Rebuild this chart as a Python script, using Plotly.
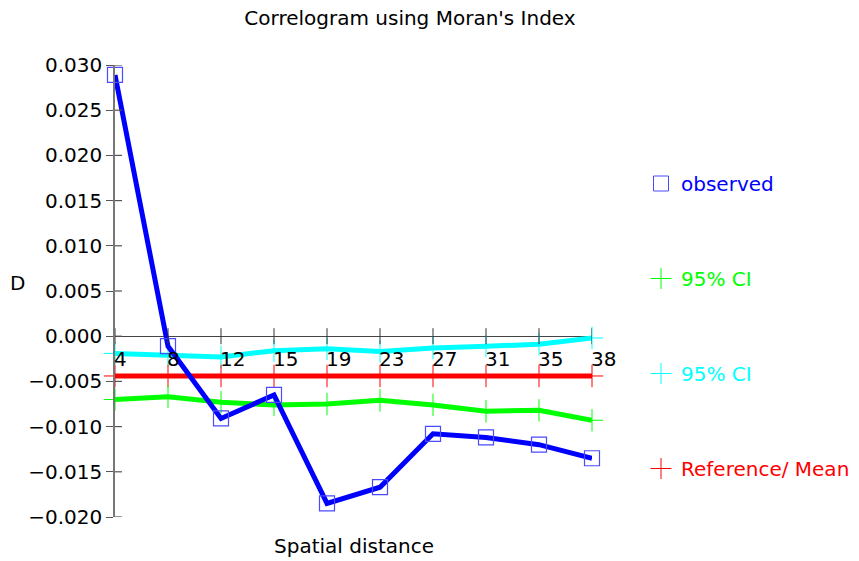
import plotly.graph_objects as go

distances = ["4", "8", "12", "15", "19", "23", "27", "31", "35", "38"]
observed = [0.0289, -0.0011, -0.0091, -0.0065, -0.0185, -0.0167, -0.0108, -0.0112, -0.0120, -0.0135]
ci_upper = [-0.0019, -0.0021, -0.0023, -0.0016, -0.0014, -0.0017, -0.0013, -0.0011, -0.0009, -0.0002]
ci_lower = [-0.0070, -0.0067, -0.0073, -0.0076, -0.0075, -0.0071, -0.0076, -0.0083, -0.0082, -0.0093]
ref_mean = [-0.0044] * len(distances)
y_ticks = [0.030, 0.025, 0.020, 0.015, 0.010, 0.005, 0.000, -0.005, -0.010, -0.015, -0.020]

FONT = "DejaVu Sans"
BLUE, GREEN, CYAN, RED = "#0000ff", "#00ff00", "#00ffff", "#ff0000"
W, H = 859, 561
L, R, T, B = 115, 267, 65, 44
PW, PH = W - L - R, H - T - B

fig = go.Figure()

def plus_trace(y, color):
    return go.Scatter(
        x=distances, y=y, mode="lines+markers", showlegend=False, cliponaxis=False,
        line=dict(color=color, width=5),
        marker=dict(symbol="cross-thin", size=16, color=color,
                    line=dict(color=color, width=1)),
    )

fig.add_trace(plus_trace(ci_upper, CYAN))
fig.add_trace(plus_trace(ref_mean, RED))
fig.add_trace(plus_trace(ci_lower, GREEN))
fig.add_trace(go.Scatter(
    x=distances, y=observed, mode="lines+markers", showlegend=False, cliponaxis=False,
    line=dict(color=BLUE, width=5),
    marker=dict(symbol="square-open", size=15, color="#4a4aff", line=dict(width=1.2)),
))

# legend-only entries
legend_items = [("observed", "square-open", BLUE, "#4a4aff"),
                ("95% CI", "cross-thin", GREEN, GREEN),
                ("95% CI", "cross-thin", CYAN, CYAN),
                ("Reference/ Mean", "cross-thin", RED, RED)]
for i, (name, sym, tcol, mcol) in enumerate(legend_items):
    fig.add_trace(go.Scatter(
        x=[None], y=[None], mode="markers",
        name=f"<span style='color:{tcol}'>{name}</span>", legendgroup=f"g{i}",
        marker=dict(symbol=sym, size=15, color=mcol, line=dict(color=mcol, width=1)),
    ))

shapes = []
for v in y_ticks:
    shapes.append(dict(type="line", xref="x", yref="y", xsizemode="pixel", xanchor=0,
                       x0=0, x1=7, y0=v, y1=v, line=dict(color="#555", width=1.2)))
for i, d in enumerate(distances):
    shapes.append(dict(type="line", xref="x", yref="y", ysizemode="pixel", yanchor=0,
                       x0=i, x1=i, y0=-8, y1=8, line=dict(color="#333", width=1)))

annotations = []
for i, d in enumerate(distances):
    annotations.append(dict(x=i, y=0, xref="x", yref="y", text=d, showarrow=False,
                            xanchor="left", yanchor="top", xshift=-3, yshift=-9,
                            font=dict(family=FONT, size=20, color="black")))
annotations.append(dict(x=(17 - L) / PW, y=(H - B - 283) / PH, xref="paper", yref="paper",
                        text="D", showarrow=False, xanchor="center", yanchor="middle",
                        font=dict(family=FONT, size=20, color="black")))
annotations.append(dict(x=(354 - L) / PW, y=(H - B - 546) / PH, xref="paper", yref="paper",
                        text="Spatial distance", showarrow=False, xanchor="center",
                        yanchor="middle", font=dict(family=FONT, size=20, color="black")))

fig.update_layout(
    shapes=shapes, annotations=annotations,
    width=W, height=H,
    margin=dict(l=L, r=R, t=T, b=B, autoexpand=False),
    paper_bgcolor="white", plot_bgcolor="white",
    font=dict(family=FONT, size=20, color="black"),
    title=dict(text="Correlogram using Moran's Index", x=410 / W, xanchor="center",
               y=1 - 18 / H, yanchor="middle", font=dict(family=FONT, size=20, color="black")),
    xaxis=dict(type="category", range=[0, len(distances) - 1], showgrid=False, zeroline=False,
               showline=False, showticklabels=False, ticks="", automargin=False),
    yaxis=dict(range=[-0.020, 0.030], tickvals=y_ticks, tickformat=".3f", showgrid=False,
               zeroline=True, zerolinecolor="#444", zerolinewidth=1.2,
               showline=True, linecolor="#777", linewidth=1.5, automargin=False,
               ticks="outside", ticklen=7, tickcolor="#555", tickwidth=1.2,
               tickfont=dict(size=20)),
    legend=dict(xref="container", yref="container", x=641 / W, xanchor="left",
                y=1 - 164 / H, yanchor="top", maxheight=420,
                tracegroupgap=66, font=dict(family=FONT, size=20, color="black"),
                bgcolor="rgba(0,0,0,0)"),
)

fig.write_html("out.html", config={"displayModeBar": False},
               post_script="document.body.style.margin='0';")
